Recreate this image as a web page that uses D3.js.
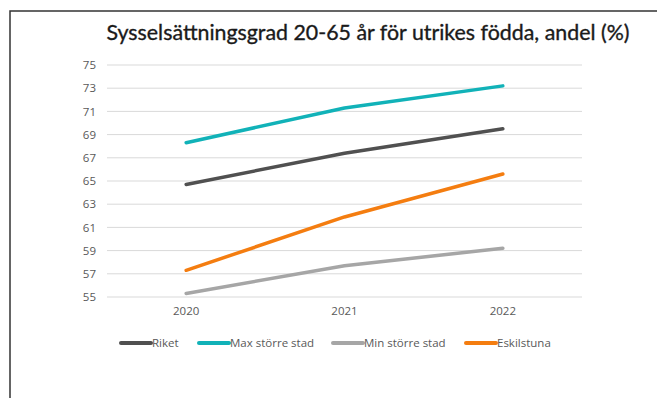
<!DOCTYPE html>
<html>
<head>
<meta charset="utf-8">
<script src="https://cdn.jsdelivr.net/npm/d3@7"></script>
<style>
  body { margin: 0; background: #fff; }
  svg { display: block; }
</style>
</head>
<body>
<svg id="chart" width="657" height="398"></svg>
<script>
// data
var years = ["2020", "2021", "2022"];
var riket = [64.7, 67.4, 69.5];
var maxStad = [68.3, 71.3, 73.2];
var minStad = [55.3, 57.7, 59.2];
var eskilstuna = [57.3, 61.9, 65.6];
var yTicks = [55, 57, 59, 61, 63, 65, 67, 69, 71, 73, 75];

var series = [
    {name: "Riket", values: riket, color: "#505050"},
    {name: "Max större stad", values: maxStad, color: "#11b2b8"},
    {name: "Min större stad", values: minStad, color: "#a6a6a6"},
    {name: "Eskilstuna", values: eskilstuna, color: "#f47d10"}
];

var svg = d3.select("#chart");

// frame (top and left border of the original slide)
svg.append("path")
    .attr("d", "M10,398 V11 H657")
    .attr("fill", "none")
    .attr("stroke", "#333")
    .attr("stroke-width", 1.5);

svg.append("text")
    .attr("x", 368)
    .attr("y", 40)
    .attr("text-anchor", "middle")
    .attr("textLength", 523)
    .attr("lengthAdjust", "spacingAndGlyphs")
    .style("font-family", "Lato, 'Open Sans', sans-serif")
    .style("font-size", "21px")
    .style("fill", "#1a1a1a")
    .style("stroke", "#1a1a1a")
    .style("stroke-width", 0.35)
    .text("Sysselsättningsgrad 20-65 år för utrikes födda, andel (%)");

var margin = {left: 107, right: 582, top: 65, bottom: 297};

var x = d3.scaleBand().domain(years).range([margin.left, margin.right]);
var y = d3.scaleLinear().domain([55, 75]).range([margin.bottom, margin.top]);

// gridlines
svg.append("g")
    .selectAll("line")
    .data(yTicks)
    .enter().append("line")
    .attr("x1", margin.left)
    .attr("x2", margin.right)
    .attr("y1", function(d) { return y(d); })
    .attr("y2", function(d) { return y(d); })
    .attr("stroke", "#d9d9d9")
    .attr("stroke-width", 1);

// y axis labels
var yAxis = svg.append("g")
    .attr("transform", "translate(" + (margin.left - 11) + ",0)")
    .call(d3.axisLeft(y).tickValues(yTicks).tickSize(0).tickPadding(0));
yAxis.select(".domain").remove();
yAxis.selectAll("text")
    .style("font-family", "'Open Sans', sans-serif")
    .style("font-size", "11.5px")
    .style("fill", "#595959");

// x axis labels
var xAxis = svg.append("g")
    .attr("transform", "translate(0," + (margin.bottom + 10) + ")")
    .call(d3.axisBottom(x).tickSize(0).tickPadding(0));
xAxis.select(".domain").remove();
xAxis.selectAll("text")
    .attr("dy", "0.71em")
    .style("font-family", "'Open Sans', sans-serif")
    .style("font-size", "11.5px")
    .style("fill", "#595959");

var line = d3.line()
    .x(function(d, i) { return x(years[i]) + x.bandwidth() / 2; })
    .y(function(d) { return y(d); });

svg.append("g")
    .selectAll("path")
    .data(series)
    .enter().append("path")
    .attr("d", function(s) { return line(s.values); })
    .attr("fill", "none")
    .attr("stroke", function(s) { return s.color; })
    .attr("stroke-width", 3.5)
    .attr("stroke-linecap", "round")
    .attr("stroke-linejoin", "round");

// legend
var legendX = [121, 199, 333, 466];
var legend = svg.append("g")
    .selectAll("g")
    .data(series)
    .enter().append("g")
    .attr("transform", function(s, i) { return "translate(" + legendX[i] + ",343)"; });

legend.append("line")
    .attr("x1", 0)
    .attr("x2", 30)
    .attr("stroke", function(s) { return s.color; })
    .attr("stroke-width", 4)
    .attr("stroke-linecap", "round");

legend.append("text")
    .attr("x", 31)
    .attr("dy", "0.35em")
    .style("font-family", "'Open Sans', sans-serif")
    .style("font-size", "11.5px")
    .style("fill", "#595959")
    .text(function(s) { return s.name; });
</script>
</body>
</html>
